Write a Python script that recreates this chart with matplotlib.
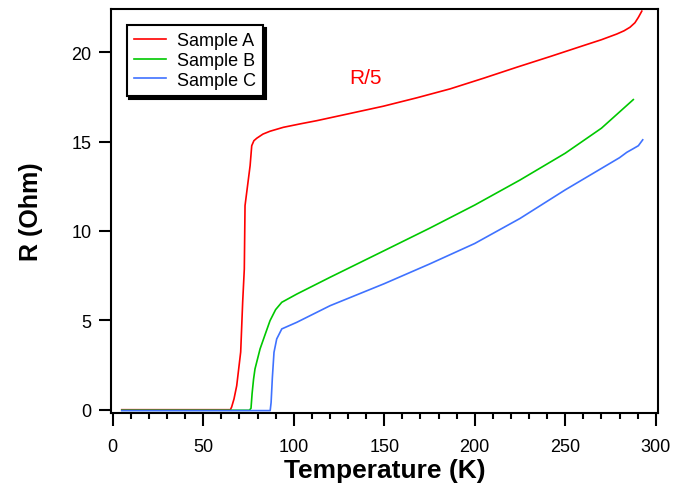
import matplotlib
matplotlib.use("Agg")
import matplotlib.pyplot as plt
from matplotlib.ticker import MultipleLocator

plt.rcParams['font.family'] = ['Liberation Sans', 'DejaVu Sans']

# Sample A (plotted as R/5)
temp_a = [5, 20, 40, 60, 65.0, 65.7, 67.0, 68.5, 70.7, 71.8, 72.7, 73.1, 75.9, 76.8, 78.0, 79.6,
          83.0, 86.9, 94.3, 104.0, 112.7, 130.0, 149.5, 168.0, 186.4, 205.0, 223.2, 242.0,
          260.0, 270.0, 278.5, 282.5, 285.8, 288.5, 290.4, 292.3]
r_a = [0.0, 0.0, 0.0, 0.0, 0.0, 0.15, 0.6, 1.34, 3.23, 6.03, 7.87, 11.42, 13.65, 14.77, 15.05, 15.19,
       15.42, 15.58, 15.8, 16.0, 16.17, 16.55, 16.98, 17.45, 17.95, 18.55, 19.16, 19.77,
       20.37, 20.7, 21.02, 21.2, 21.4, 21.65, 21.95, 22.3]

# Sample B
temp_b = [5, 20, 40, 60, 75.5, 76.4, 77.0, 77.8, 78.6, 81.4, 84.0, 86.9, 90.0, 93.4, 101.7, 120.1,
          150.0, 175.0, 200.0, 225.0, 250.0, 270.0, 287.6]
r_b = [-0.03, -0.03, -0.03, -0.03, -0.03, 0.08, 0.9, 1.7, 2.28, 3.4, 4.15, 4.98, 5.6, 6.01, 6.47, 7.41,
       8.9, 10.15, 11.45, 12.85, 14.35, 15.75, 17.35]

# Sample C
temp_c = [5, 20, 40, 60, 80, 87.0, 87.5, 88.2, 89.1, 90.6, 93.4, 101.7, 120.1, 150.0, 175.0,
          200.0, 225.0, 250.0, 265.0, 280.0, 284.0, 287.5, 290.4, 292.8]
r_c = [-0.05, -0.05, -0.05, -0.05, -0.05, -0.05, 0.4, 1.8, 3.21, 3.96, 4.52, 4.89, 5.82, 7.05, 8.15,
       9.3, 10.7, 12.3, 13.2, 14.1, 14.4, 14.6, 14.77, 15.1]

labels = ["Sample A", "Sample B", "Sample C"]
colors = ["#ff0000", "#00c800", "#3f72ff"]

x_ticks = [0, 50, 100, 150, 200, 250, 300]
y_ticks = [0, 5, 10, 15, 20]

fig = plt.figure(figsize=(6.86, 4.89), dpi=100)
ax = fig.add_axes([0.1614, 0.1528, 0.7982, 0.8268])

for t, r, lab, c in zip([temp_a, temp_b, temp_c], [r_a, r_b, r_c], labels, colors):
    ax.plot(t, r, color=c, lw=1.2, label=lab)

ax.set_xlim(-1.1, 301.4)
ax.set_ylim(-0.2, 22.42)
ax.set_xticks(x_ticks)
ax.set_yticks(y_ticks)
ax.xaxis.set_minor_locator(MultipleLocator(10))
ax.tick_params(axis='both', which='major', direction='out', length=9, width=1.5,
               labelsize=13, pad=5)
ax.tick_params(axis='x', which='major', pad=9)
ax.tick_params(axis='x', which='minor', direction='out', length=4.5, width=1.5)
for s in ax.spines.values():
    s.set_linewidth(1.5)

ax.set_xlabel("Temperature (K)", fontsize=19, fontweight='bold', labelpad=2)
ax.set_ylabel("R (Ohm)", fontsize=18, fontweight='bold', labelpad=20)

ax.text(139.4, 18.6, "R/5", color="#ff0000", fontsize=15, ha='center', va='center')

leg = ax.legend(loc='upper left', bbox_to_anchor=(0.029, 0.96), borderaxespad=0,
                fontsize=13, frameon=True, fancybox=False, shadow={'color': 'black', 'alpha': 1.0},
                edgecolor='black', handlelength=1.8, handletextpad=0.6, labelspacing=0.15,
                borderpad=0.4)
leg.get_frame().set_linewidth(1.5)

fig.savefig("out.png", dpi=100)
